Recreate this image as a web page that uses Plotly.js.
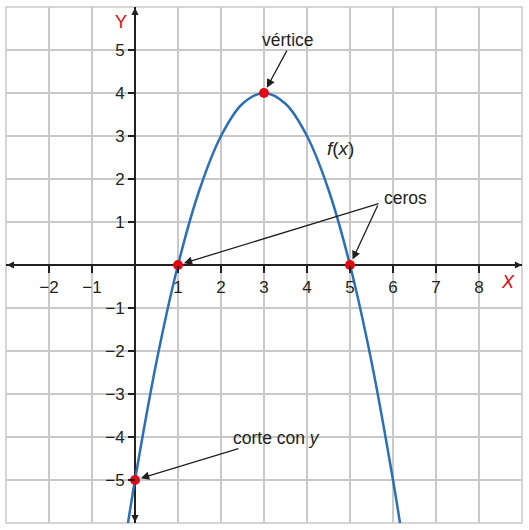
<!DOCTYPE html>
<html><head><meta charset="utf-8">
<script src="https://cdn.plot.ly/plotly-3.0.1.min.js"></script>
<style>html,body{margin:0;padding:0;background:#fff}#c{width:529px;height:530px}</style>
</head><body><div id="c"></div>
<script>
// curve points
var curveX = [-0.2, 0, 0.5, 1, 1.5, 2, 2.5, 3, 3.5, 4, 4.5, 5, 5.5, 6, 6.2];
var curveY = [-6.24, -5, -2.25, 0, 1.75, 3, 3.75, 4, 3.75, 3, 1.75, 0, -2.25, -5, -6.24];
// highlighted points: vertex, zeros, y-intercept
var pointX = [3, 1, 5, 0];
var pointY = [4, 0, 0, -5];
// tick labels
var xTickVals = [-2, -1, 1, 2, 3, 4, 5, 6, 7, 8];
var xTickText = ["\u22122", "\u22121", "1", "2", "3", "4", "5", "6", "7", "8"];
var yTickVals = [-5, -4, -3, -2, -1, 1, 2, 3, 4, 5];
var yTickText = ["\u22125", "\u22124", "\u22123", "\u22122", "\u22121", "1", "2", "3", "4", "5"];

var ink = '#231f20';
var font = 'Liberation Sans, Arial, sans-serif';

var traces = [
  {x: curveX, y: curveY, mode: 'lines', line: {color: '#2b6fb6', width: 2.5, shape: 'spline'}, hoverinfo: 'skip'},
  {x: pointX, y: pointY, mode: 'markers', marker: {color: '#e30613', size: 10}, hoverinfo: 'skip', cliponaxis: false}
];

function arrow(x, y, ax, ay, standoff, size) {
  return {x: x, y: y, ax: ax, ay: ay, xref: 'x', yref: 'y', axref: 'x', ayref: 'y',
    text: '', showarrow: true, arrowhead: 2, arrowsize: size || 1.3, arrowwidth: 1.3,
    arrowcolor: ink, standoff: standoff || 0};
}
function label(x, y, text, size, color) {
  return {x: x, y: y, xref: 'x', yref: 'y', text: text, showarrow: false,
    font: {family: font, size: size || 17.5, color: color || ink}};
}

var annotations = [
  // axis arrows
  arrow(9.0, 0, 8.6, 0, 0, 1.1),
  arrow(-2.98, 0, -2.6, 0, 0, 1.1),
  arrow(0, 5.98, 0, 5.6, 0, 1.1),
  arrow(0, -5.98, 0, -5.6, 0, 1.1),
  // callouts
  arrow(3, 4, 3.55, 5.02, 6),
  arrow(1, 0, 5.70, 1.44, 6),
  arrow(5, 0, 5.66, 1.42, 6),
  arrow(0, -5, 2.44, -4.26, 6),
  label(3.55, 5.24, 'vértice'),
  label(6.30, 1.55, 'ceros'),
  label(3.28, -4.02, 'corte con <i>y</i>'),
  label(4.78, 2.70, '<i>f</i>(<i>x</i>)', 19),
  label(8.68, -0.40, '<i>X</i>', 18, '#e30613'),
  label(-0.33, 5.66, 'Y', 18, '#e30613')
];

var layout = {
  width: 529, height: 530,
  margin: {l: 6, r: 7, t: 7, b: 7},
  paper_bgcolor: '#ffffff', plot_bgcolor: '#ffffff',
  showlegend: false,
  xaxis: {range: [-3, 9], anchor: 'free', position: 0.5,
    tickvals: xTickVals, ticktext: xTickText,
    showgrid: true, gridcolor: '#c9c9c9', gridwidth: 1.5,
    zeroline: true, zerolinecolor: ink, zerolinewidth: 2,
    showline: false, ticks: 'outside', ticklen: 7, tickwidth: 1.5, tickcolor: ink,
    tickfont: {family: font, size: 17, color: ink}, fixedrange: true},
  yaxis: {range: [-6, 6], anchor: 'free', position: 0.25,
    tickvals: yTickVals, ticktext: yTickText,
    showgrid: true, gridcolor: '#c9c9c9', gridwidth: 1.5,
    zeroline: true, zerolinecolor: ink, zerolinewidth: 2,
    showline: false, ticks: 'outside', ticklen: 7, tickwidth: 1.5, tickcolor: ink,
    tickfont: {family: font, size: 17, color: ink}, fixedrange: true},
  shapes: [{type: 'rect', xref: 'paper', yref: 'paper', x0: 0, y0: 0, x1: 1, y1: 1,
    line: {color: '#c9c9c9', width: 1.5}, layer: 'below'}],
  annotations: annotations
};

Plotly.newPlot('c', traces, layout, {displayModeBar: false, staticPlot: true});
</script></body></html>
